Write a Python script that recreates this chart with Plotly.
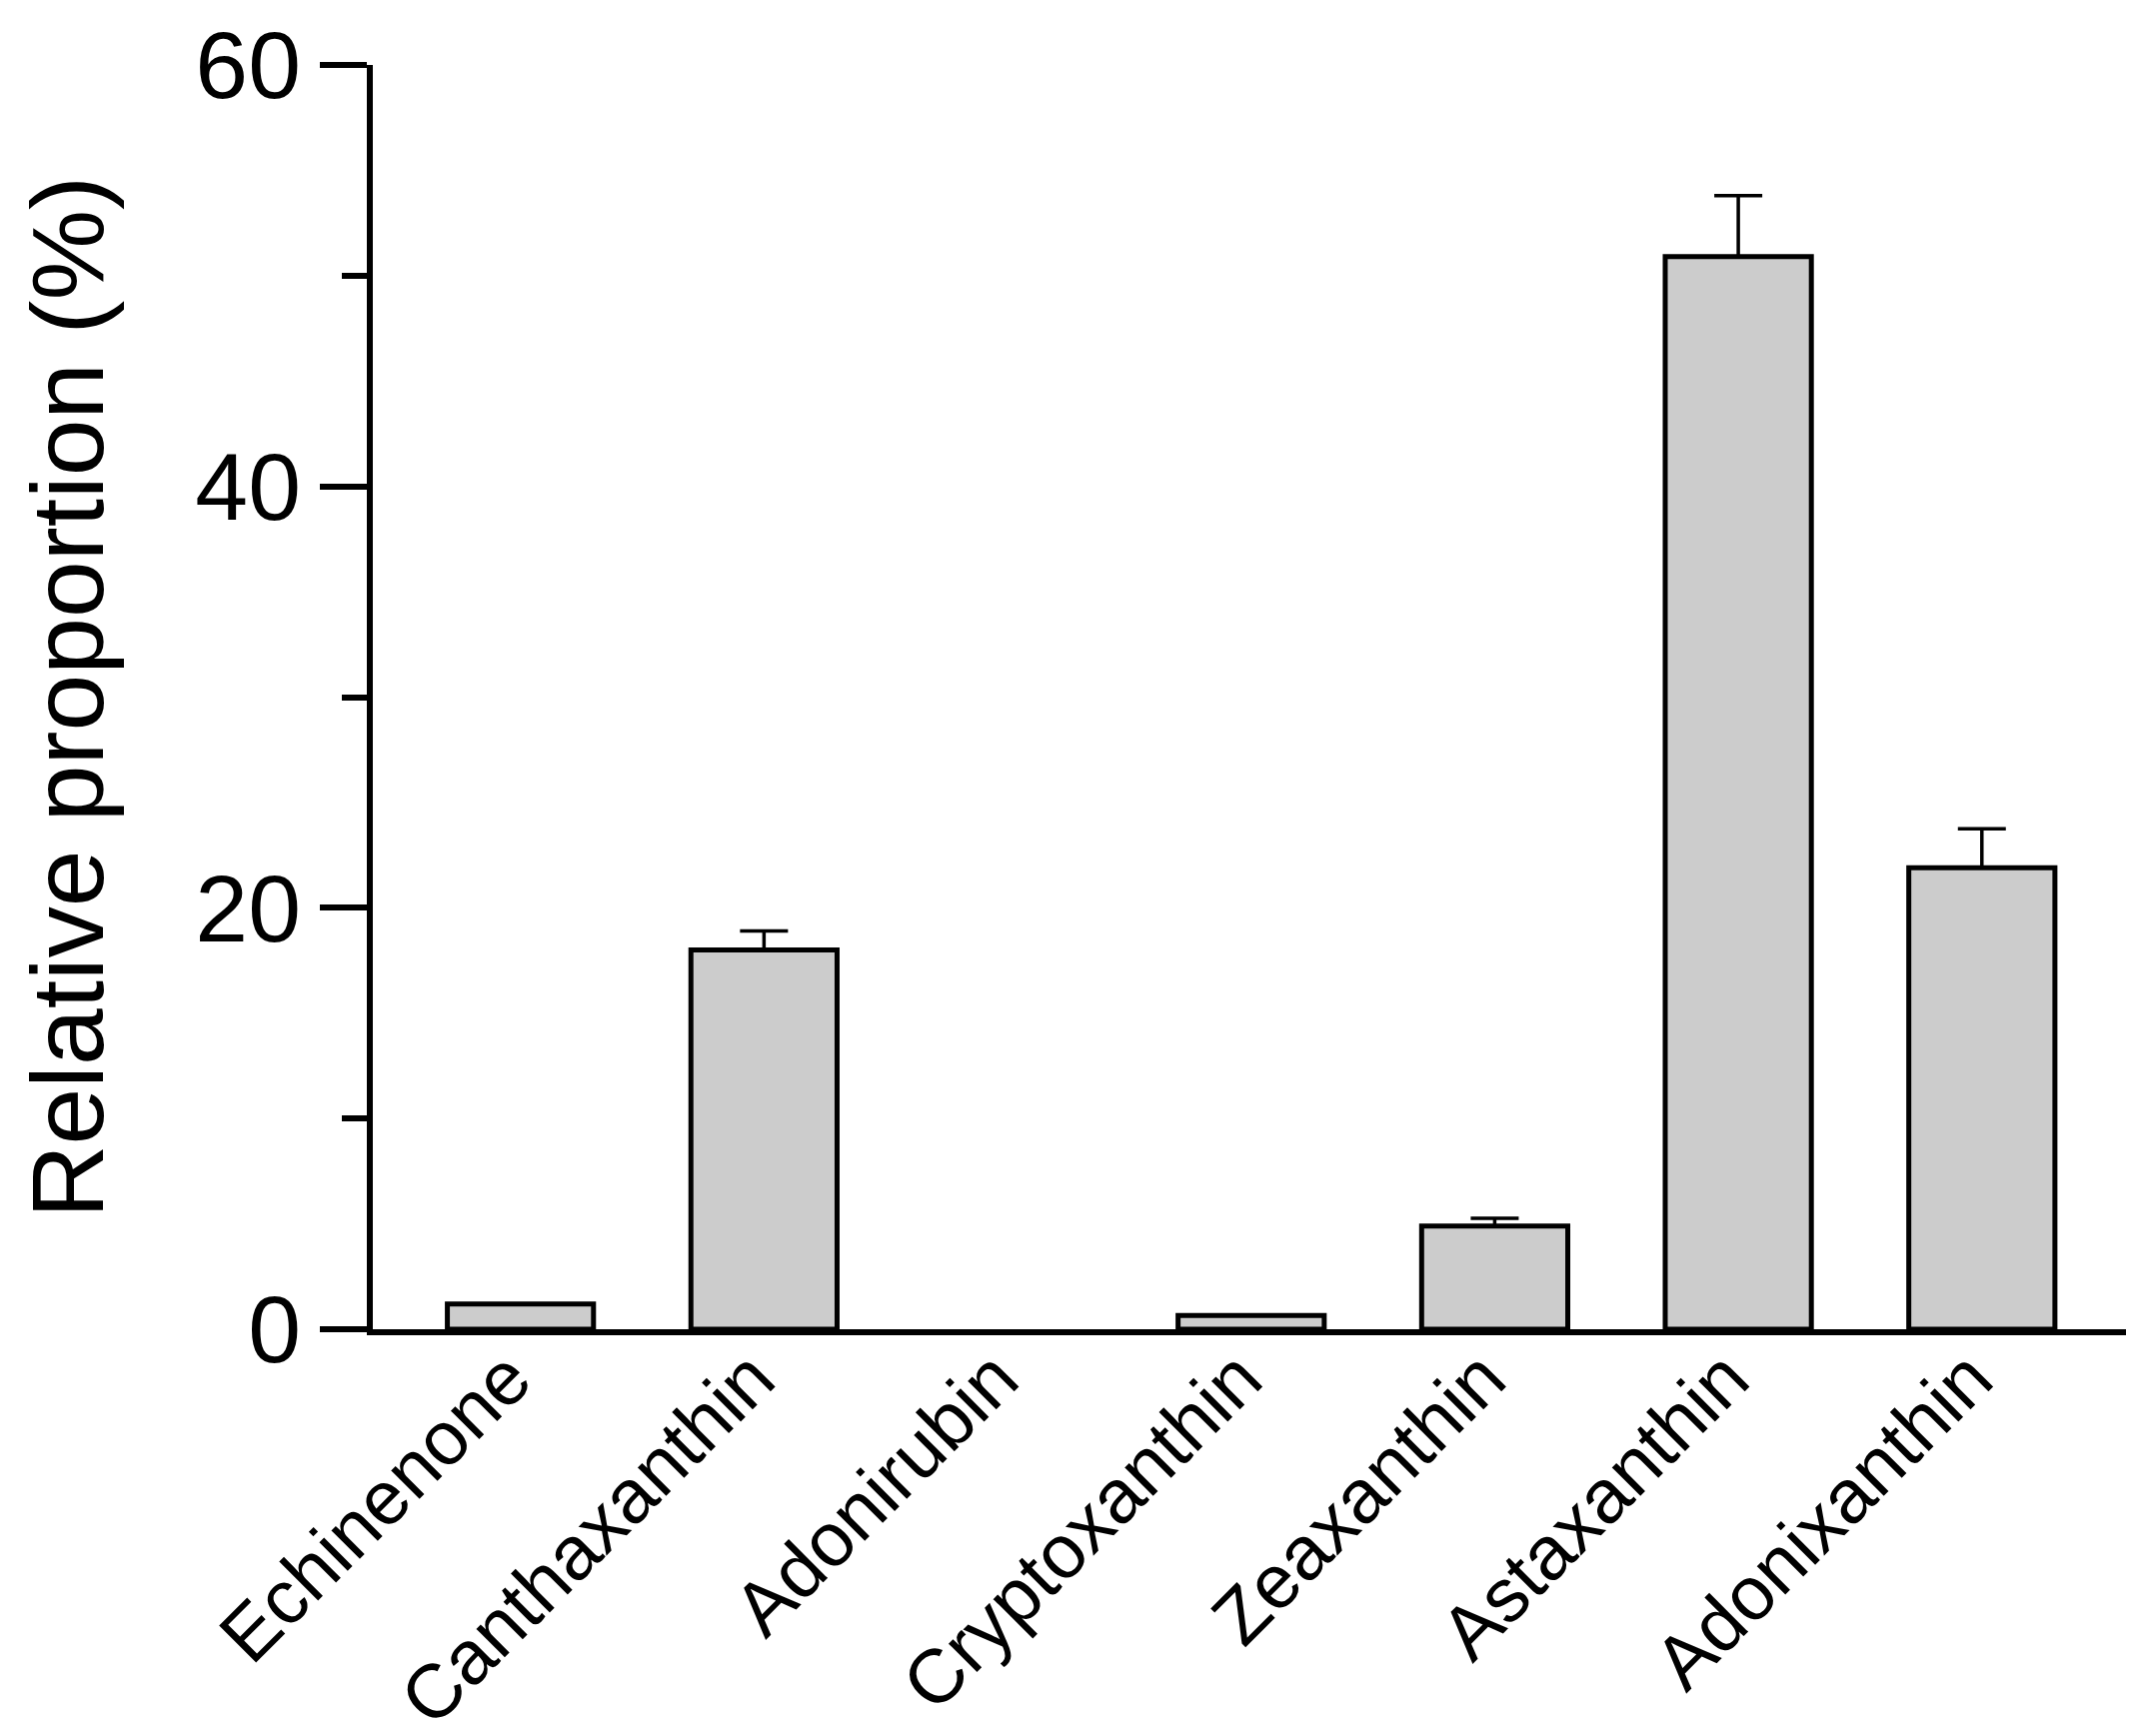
import plotly.graph_objects as go

categories = ["Echinenone", "Canthaxanthin", "Adonirubin", "Cryptoxanthin",
              "Zeaxanthin", "Astaxanthin", "Adonixanthin"]
values = [1.2, 18.0, 0.0, 0.65, 4.9, 50.9, 21.9]
errors = [None, 0.9, None, None, 0.37, 2.9, 1.85]

FONT = "Arial, Liberation Sans, sans-serif"

xs = list(range(len(categories)))
outline = [5 if v > 0 else 0 for v in values]

fig = go.Figure()
fig.add_trace(go.Bar(
    x=xs,
    y=values,
    width=0.6,
    marker=dict(color="#cccccc", line=dict(color="black", width=outline)),
    showlegend=False,
))

# error bars only where an error is shown
ex = [x for x, e in zip(xs, errors) if e is not None]
ey = [v for v, e in zip(values, errors) if e is not None]
ee = [e for e in errors if e is not None]
fig.add_trace(go.Scatter(
    x=ex, y=ey, mode="markers",
    marker=dict(size=0.1, color="rgba(0,0,0,0)"),
    error_y=dict(type="data", array=ee, symmetric=False,
                 arrayminus=[0] * len(ee),
                 color="black", thickness=3.5, width=24, visible=True),
    showlegend=False, hoverinfo="skip",
))

fig.update_layout(
    width=2135, height=1737,
    margin=dict(l=365, r=14, t=57, b=415, pad=0, autoexpand=False),
    paper_bgcolor="white", plot_bgcolor="white",
    font=dict(family=FONT, color="black"),
)

fig.update_xaxes(
    range=[-0.606, 6.6],
    tickmode="array",
    tickvals=xs,
    ticktext=categories,
    tickangle=-45,
    tickfont=dict(size=76, family=FONT, color="black"),
    showline=True, linecolor="black", linewidth=6,
    ticks="", showgrid=False, zeroline=False,
    automargin=False,
    ticklabelstandoff=-32,
    ticklabelshift=-12,
)

fig.update_yaxes(
    range=[0, 60],
    tickvals=[0, 20, 40, 60],
    ticks="outside", ticklen=47, tickwidth=6, tickcolor="black",
    minor=dict(tickvals=[10, 30, 50], ticks="outside", ticklen=25,
               tickwidth=6, tickcolor="black"),
    tickfont=dict(size=95, family=FONT, color="black"),
    showline=True, linecolor="black", linewidth=6,
    showgrid=False, zeroline=False,
    automargin=False,
    title=dict(text="Relative proportion (%)",
               font=dict(size=102, family=FONT, color="black"),
               standoff=60),
)

fig.write_html("out.html")
